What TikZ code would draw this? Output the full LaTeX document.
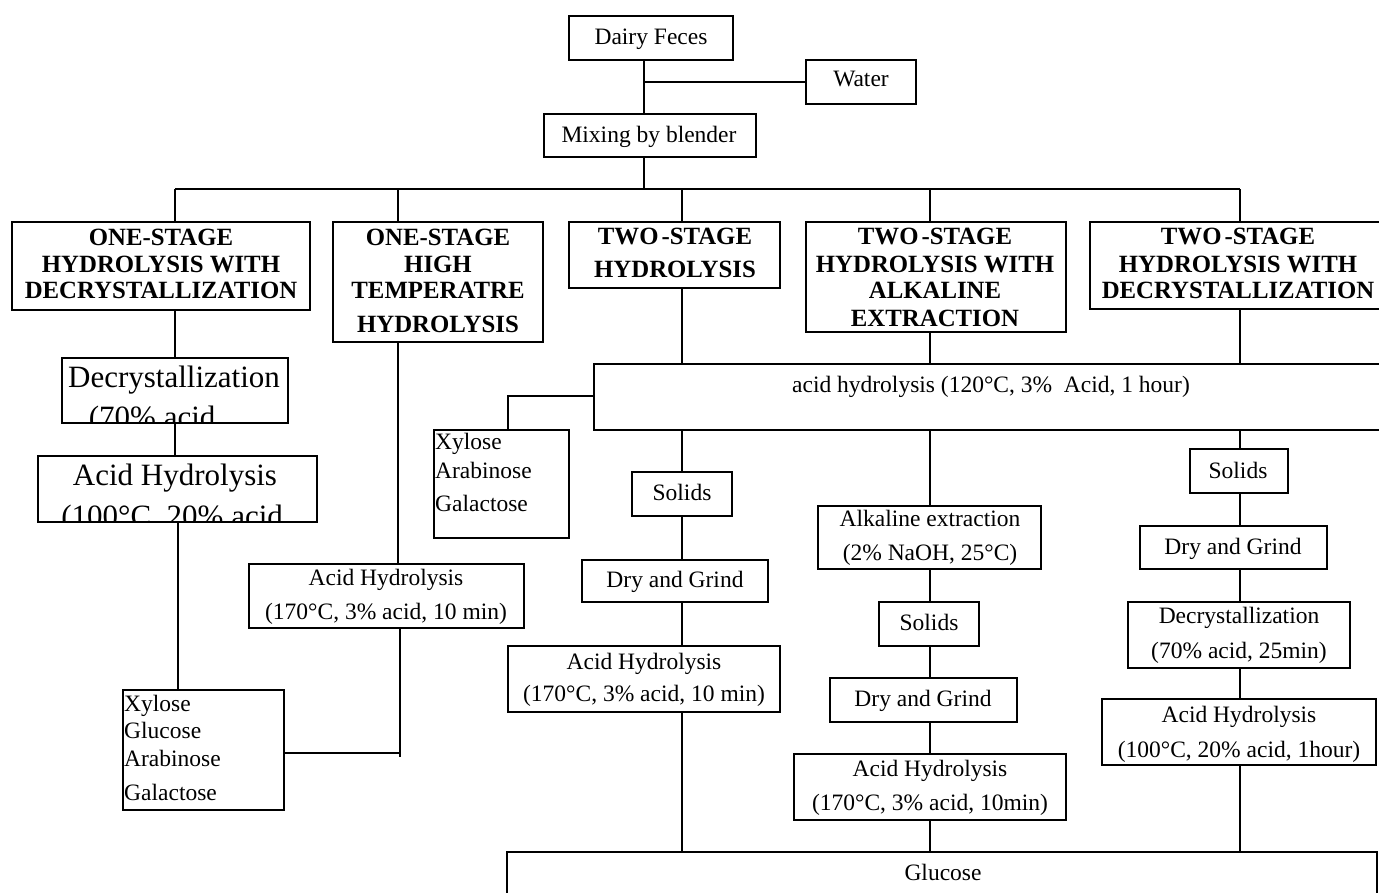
\documentclass[tikz,border=0pt]{standalone}
\usepackage{fontspec}
\setmainfont{Liberation Serif}
\newcommand\mybox[5]{\node[box, minimum width={(#4-#2)*1pt}, minimum height={(#5-#3)*1pt}] (#1) at ({(#2+#4)/2},{(#3+#5)/2}) {};}
\newcommand\tx[5]{\node[#1] (#2) at (#3,#4) {#5};}
\begin{document}
\begin{tikzpicture}[x=1pt,y=-1pt,
  box/.style={draw, line width=2pt, inner sep=0pt, outer sep=0pt},
  txt/.style={font=\fontsize{23.5}{28}\selectfont, inner sep=0pt, anchor=base},
  txl/.style={font=\fontsize{23.5}{28}\selectfont, inner sep=0pt, anchor=base west},
  hd/.style={font=\bfseries\fontsize{24.8}{27}\selectfont, inner sep=0pt, anchor=base},
  big/.style={font=\fontsize{31}{36}\selectfont, inner sep=0pt, anchor=base},
  conn/.style={line width=2pt}]
\clip (0,0) rectangle (1379,892);
\fill[white] (0,0) rectangle (1379,892);
% boxes
\mybox{df}{569}{16}{733}{60}
\mybox{water}{806}{60}{916}{104}
\mybox{mix}{544}{114}{756}{157}
\mybox{h1}{12}{222}{310}{310}
\mybox{h2}{333}{222}{543}{342}
\mybox{h3}{569}{222}{780}{288}
\mybox{h4}{806}{222}{1066}{332}
\mybox{h5}{1090}{222}{1395}{309}
\mybox{dec1}{62}{358}{288}{423}
\mybox{ahb}{38}{456}{317}{522}
\mybox{xyl1}{123}{690}{284}{810}
\mybox{ah2}{249}{564}{524}{628}
\mybox{ah120}{594}{364}{1395}{430}
\mybox{xyl2}{434}{430}{569}{538}
\mybox{sol3}{632}{472}{732}{516}
\mybox{dg3}{582}{560}{768}{602}
\mybox{ah3}{508}{646}{780}{712}
\mybox{alk}{818}{506}{1041}{569}
\mybox{sol4}{879}{602}{979}{646}
\mybox{dg4}{830}{678}{1017}{722}
\mybox{ah4}{794}{754}{1066}{820}
\mybox{sol5}{1190}{449}{1288}{493}
\mybox{dg5}{1140}{526}{1327}{569}
\mybox{dec5}{1128}{602}{1350}{668}
\mybox{ah5}{1102}{699}{1376}{765}
\mybox{glu}{507}{852}{1377}{910}
% texts
\tx{txt}{tdf}{651}{44}{Dairy Feces}
\tx{txt}{twa}{861}{86}{Water}
\tx{txt}{tmx}{649}{142}{Mixing by blender}
\tx{hd}{th1a}{161}{245}{ONE-STAGE}
\tx{hd}{th1b}{161}{272}{HYDROLYSIS WITH}
\tx{hd}{th1c}{161}{298}{DECRYSTALLIZATION}
\tx{hd}{th2a}{438}{245}{ONE-STAGE}
\tx{hd}{th2b}{438}{272}{HIGH}
\tx{hd}{th2c}{438}{298}{TEMPERATRE}
\tx{hd}{th2d}{438}{332}{HYDROLYSIS}
\tx{hd}{th3a}{675}{244}{TWO\kern3pt-STAGE}
\tx{hd}{th3b}{675}{277}{HYDROLYSIS}
\tx{hd}{th4a}{935}{244}{TWO\kern3pt-STAGE}
\tx{hd}{th4b}{935}{272}{HYDROLYSIS WITH}
\tx{hd}{th4c}{935}{298}{ALKALINE}
\tx{hd}{th4d}{935}{326}{EXTRACTION}
\tx{hd}{th5a}{1238}{244}{TWO\kern3pt-STAGE}
\tx{hd}{th5b}{1238}{272}{HYDROLYSIS WITH}
\tx{hd}{th5c}{1238}{298}{DECRYSTALLIZATION}
\begin{scope}
\clip (dec1.south west) rectangle (dec1.north east);
\tx{big}{tdc1a}{174}{387}{Decrystallization}
\tx{big}{tdc1b}{156}{427}{(70\% acid,}
\end{scope}
\begin{scope}
\clip (ahb.south west) rectangle (ahb.north east);
\tx{big}{tahba}{175}{485}{Acid Hydrolysis}
\tx{big}{tahbb}{176}{526}{(100°C, 20\% acid,}
\end{scope}
\tx{txl}{tx1a}{124}{711}{Xylose}
\tx{txl}{tx1b}{124}{738}{Glucose}
\tx{txl}{tx1c}{124}{766}{Arabinose}
\tx{txl}{tx1d}{124}{800}{Galactose}
\tx{txt}{ta2a}{386}{585}{Acid Hydrolysis}
\tx{txt}{ta2b}{386}{619}{(170°C, 3\% acid, 10 min)}
\tx{txt}{t120}{991}{392}{acid hydrolysis (120°C, 3\%\ \ Acid, 1 hour)}
\tx{txl}{tx2a}{435}{449}{Xylose}
\tx{txl}{tx2b}{435}{478}{Arabinose}
\tx{txl}{tx2c}{435}{511}{Galactose}
\tx{txt}{ts3}{682}{500}{Solids}
\tx{txt}{tdg3}{675}{587}{Dry and Grind}
\tx{txt}{ta3a}{644}{669}{Acid Hydrolysis}
\tx{txt}{ta3b}{644}{701}{(170°C, 3\% acid, 10 min)}
\tx{txt}{talka}{930}{526}{Alkaline extraction}
\tx{txt}{talkb}{930}{560}{(2\% NaOH, 25°C)}
\tx{txt}{ts4}{929}{630}{Solids}
\tx{txt}{tdg4}{923}{706}{Dry and Grind}
\tx{txt}{ta4a}{930}{776}{Acid Hydrolysis}
\tx{txt}{ta4b}{930}{810}{(170°C, 3\% acid, 10min)}
\tx{txt}{ts5}{1238}{478}{Solids}
\tx{txt}{tdg5}{1233}{554}{Dry and Grind}
\tx{txt}{td5a}{1239}{623}{Decrystallization}
\tx{txt}{td5b}{1239}{658}{(70\% acid, 25min)}
\tx{txt}{ta5a}{1239}{722}{Acid Hydrolysis}
\tx{txt}{ta5b}{1239}{757}{(100°C, 20\% acid, 1hour)}
\tx{txt}{tglu}{943}{880}{Glucose}
% connector coordinates
\coordinate (w) at (644,82);
\coordinate (c1) at (175,189);
\coordinate (c2) at (398,189);
\coordinate (c3) at (682,189);
\coordinate (c4) at (930,189);
\coordinate (c5) at (1240,189);
\coordinate (c6) at (178,189);
\coordinate (k) at (400,757);
\coordinate (m) at (400,753);
\coordinate (n) at (508,396);
% connectors
\draw[conn] (df.south -| w) -- (mix.north -| w);
\draw[conn] (w) -- (water.west |- w);
\draw[conn] (mix.south -| w) -- (w |- c1);
\draw[conn] (c1) -- (c5);
\draw[conn] (c1) -- (h1.north -| c1);
\draw[conn] (c2) -- (h2.north -| c2);
\draw[conn] (c3) -- (h3.north -| c3);
\draw[conn] (c4) -- (h4.north -| c4);
\draw[conn] (c5) -- (h5.north -| c5);
\draw[conn] (h1.south -| c1) -- (dec1.north -| c1);
\draw[conn] (dec1.south -| c1) -- (ahb.north -| c1);
\draw[conn] (ahb.south -| c6) -- (xyl1.north -| c6);
\draw[conn] (h2.south -| c2) -- (ah2.north -| c2);
\draw[conn] (ah2.south -| k) -- (k);
\draw[conn] (xyl1.east |- m) -- (m);
\draw[conn] (h3.south -| c3) -- (ah120.north -| c3);
\draw[conn] (h4.south -| c4) -- (ah120.north -| c4);
\draw[conn] (h5.south -| c5) -- (ah120.north -| c5);
\draw[conn] (ah120.west |- n) -- (n) -- (xyl2.north -| n);
\draw[conn] (ah120.south -| c3) -- (sol3.north -| c3);
\draw[conn] (sol3.south -| c3) -- (dg3.north -| c3);
\draw[conn] (dg3.south -| c3) -- (ah3.north -| c3);
\draw[conn] (ah3.south -| c3) -- (glu.north -| c3);
\draw[conn] (ah120.south -| c4) -- (alk.north -| c4);
\draw[conn] (alk.south -| c4) -- (sol4.north -| c4);
\draw[conn] (sol4.south -| c4) -- (dg4.north -| c4);
\draw[conn] (dg4.south -| c4) -- (ah4.north -| c4);
\draw[conn] (ah4.south -| c4) -- (glu.north -| c4);
\draw[conn] (ah120.south -| c5) -- (sol5.north -| c5);
\draw[conn] (sol5.south -| c5) -- (dg5.north -| c5);
\draw[conn] (dg5.south -| c5) -- (dec5.north -| c5);
\draw[conn] (dec5.south -| c5) -- (ah5.north -| c5);
\draw[conn] (ah5.south -| c5) -- (glu.north -| c5);
\end{tikzpicture}
\end{document}
